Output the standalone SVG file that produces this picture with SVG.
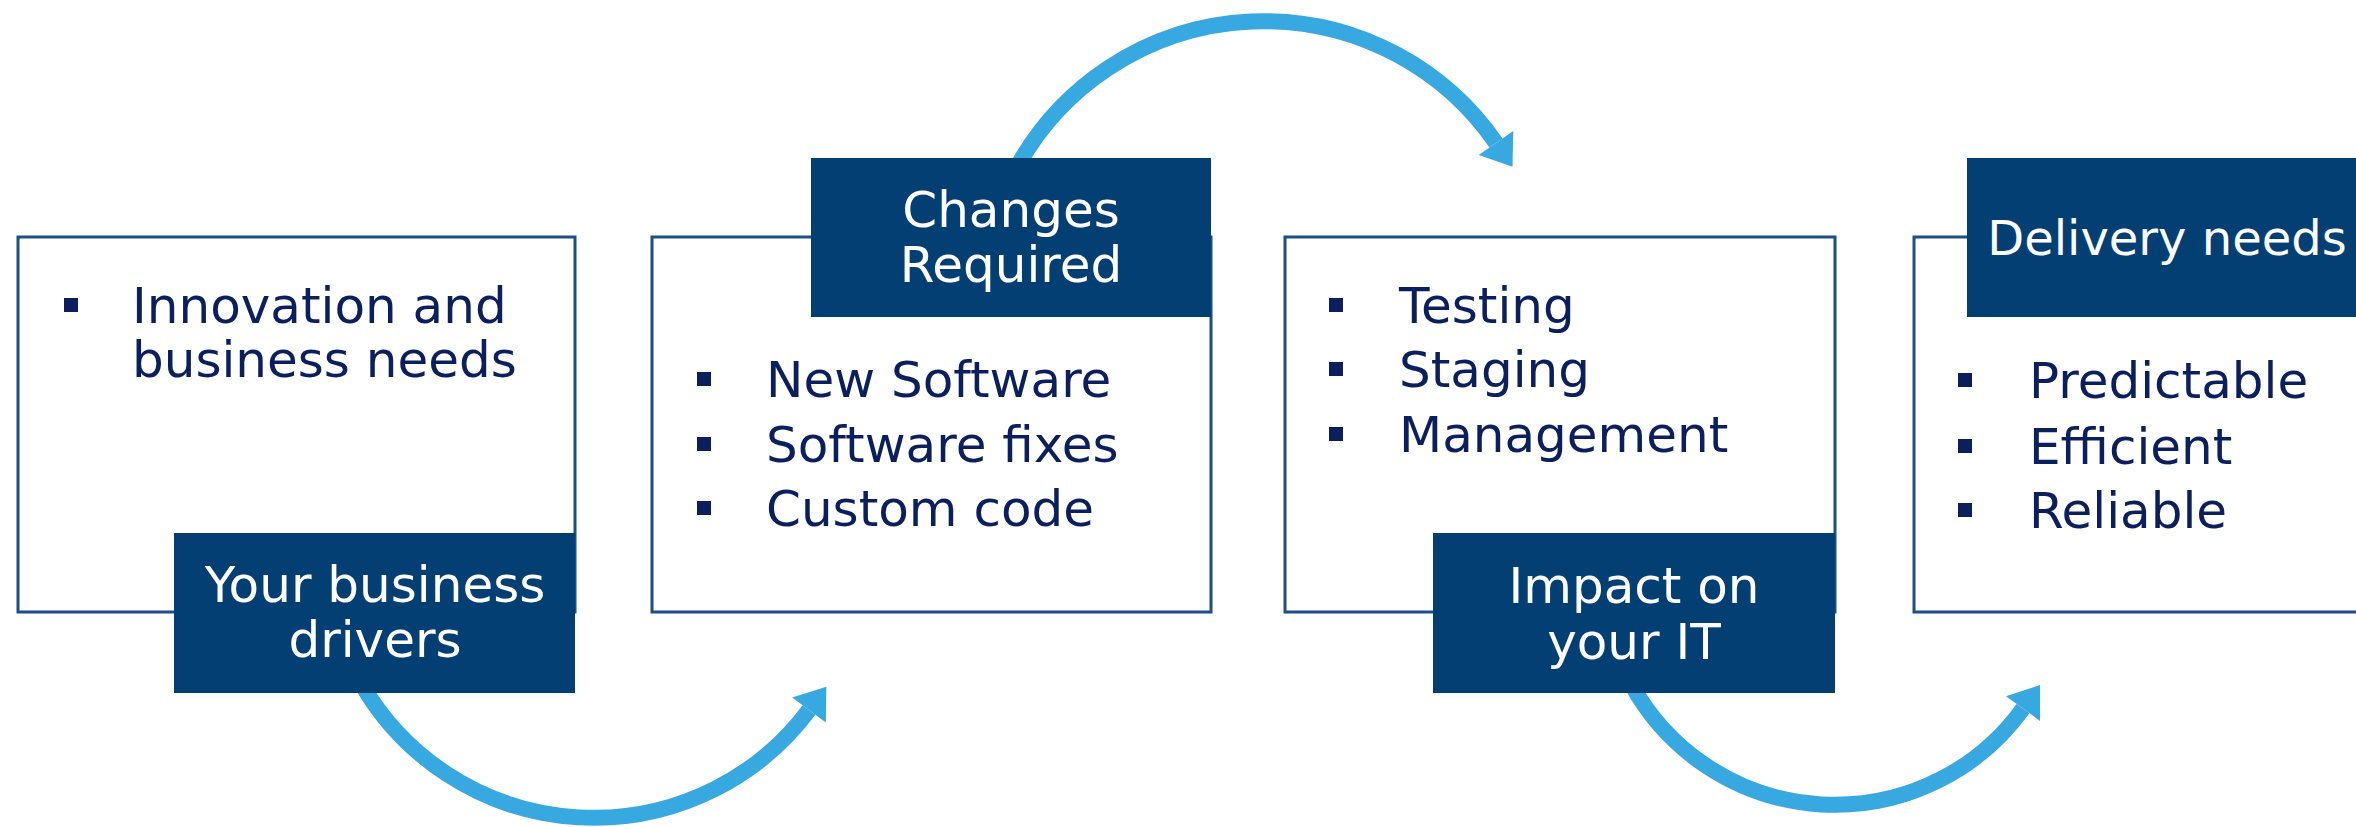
<svg xmlns="http://www.w3.org/2000/svg" width="2356" height="827" viewBox="0 0 2356 827">
<style>
.outline{fill:#ffffff;stroke:#1d4f87;stroke-width:3}
.label{fill:#033f73}
.ltxt{font-family:"DejaVu Sans",sans-serif;font-size:50px;fill:#ffffff;text-anchor:middle}
.btxt{font-family:"DejaVu Sans",sans-serif;font-size:50px;fill:#0b1f5c}
.bul{fill:#0b1f5c}
.arc{fill:none;stroke:#38a8e0;stroke-width:16;marker-end:url(#head)}
</style>
<defs>
<marker id="head" markerUnits="userSpaceOnUse" orient="auto" viewBox="-2 -23 33 46" markerWidth="33" markerHeight="46" refX="0" refY="0">
<path d="M0,-21 L29,0 L0,21 Z" fill="#38a8e0"/>
</marker>
</defs>
<g id="connectors">
<path class="arc" d="M362.1 685 A268.6 268.6 0 0 0 809 710"/>
<path class="arc" d="M1018.1 165 A282 282 0 0 1 1496 143"/>
<path class="arc" d="M1631.8 685 A232 232 0 0 0 2023 708.6"/>
</g>
<g id="node1">
<rect class="outline" x="18" y="237" width="557" height="375"/>
<rect class="bul" x="64" y="298" width="14" height="14"/>
<text class="btxt" x="132" y="323">Innovation and</text>
<text class="btxt" x="132" y="377">business needs</text>
<rect class="label" x="174" y="533" width="401" height="160"/>
<text class="ltxt" x="375" y="602">Your business</text>
<text class="ltxt" x="375" y="657">drivers</text>
</g>
<g id="node2">
<rect class="outline" x="652" y="237" width="559" height="375"/>
<rect class="label" x="811" y="158" width="400" height="159"/>
<text class="ltxt" x="1011" y="227">Changes</text>
<text class="ltxt" x="1011" y="282">Required</text>
<rect class="bul" x="697" y="372" width="14" height="14"/>
<rect class="bul" x="697" y="437" width="14" height="14"/>
<rect class="bul" x="697" y="501" width="14" height="14"/>
<text class="btxt" x="766" y="397">New Software</text>
<text class="btxt" x="766" y="462">Software fixes</text>
<text class="btxt" x="766" y="526">Custom code</text>
</g>
<g id="node3">
<rect class="outline" x="1285" y="237" width="550" height="375"/>
<rect class="bul" x="1329" y="298" width="14" height="14"/>
<rect class="bul" x="1329" y="362" width="14" height="14"/>
<rect class="bul" x="1329" y="427" width="14" height="14"/>
<text class="btxt" x="1399" y="323">Testing</text>
<text class="btxt" x="1399" y="387">Staging</text>
<text class="btxt" x="1399" y="452">Management</text>
<rect class="label" x="1433" y="533" width="402" height="160"/>
<text class="ltxt" x="1634" y="603">Impact on</text>
<text class="ltxt" x="1634" y="659">your IT</text>
</g>
<g id="node4">
<rect class="outline" x="1914" y="237" width="555" height="375"/>
<rect class="label" x="1967" y="158" width="400" height="159"/>
<text class="ltxt" x="2167" y="255" style="font-size:48px">Delivery needs</text>
<rect class="bul" x="1958" y="373" width="14" height="14"/>
<rect class="bul" x="1958" y="439" width="14" height="14"/>
<rect class="bul" x="1958" y="503" width="14" height="14"/>
<text class="btxt" x="2029" y="398">Predictable</text>
<text class="btxt" x="2029" y="464">Efficient</text>
<text class="btxt" x="2029" y="528">Reliable</text>
</g>
</svg>
